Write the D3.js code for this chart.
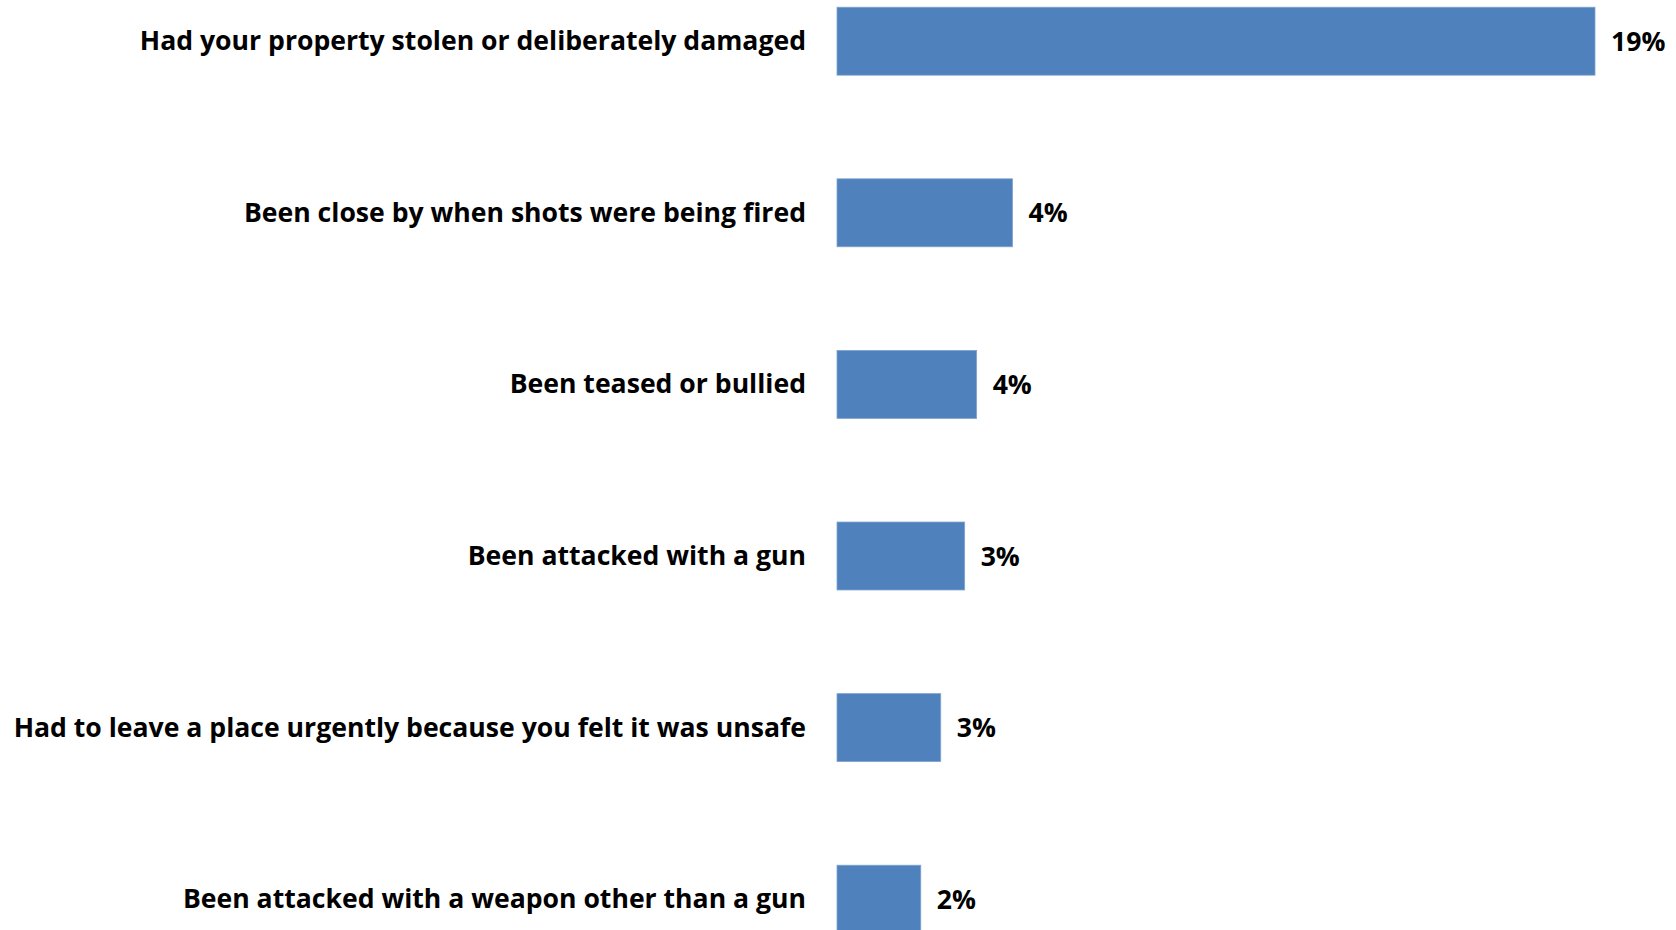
<!DOCTYPE html>
<html>
<head>
<meta charset="utf-8">
<script src="https://cdn.jsdelivr.net/npm/d3@7"></script>
<style>
  html, body { margin: 0; padding: 0; background: #fff; }
  svg { display: block; }
</style>
</head>
<body>
<svg id="chart" width="1676" height="930"></svg>
<script>
const categories = [
  "Had your property stolen or deliberately damaged",
  "Been close by when shots were being fired",
  "Been teased or bullied",
  "Been attacked with a gun",
  "Had to leave a place urgently because you felt it was unsafe",
  "Been attacked with a weapon other than a gun"
];
const values = [19.0, 4.4, 3.5, 3.2, 2.6, 2.1];
const valueLabels = ["19%", "4%", "4%", "3%", "3%", "2%"];

const W = 1676, H = 930;
const svg = d3.select("#chart");

const x = d3.scaleLinear()
  .domain([0, d3.max(values)])
  .range([837, 1595]);

const pad = 0.604;
const y = d3.scaleBand()
  .domain(categories)
  .range([-44.6, -44.6 + 171.6 * categories.length])
  .paddingInner(pad)
  .paddingOuter(pad / 2);

const font = "'Open Sans', sans-serif";
const fs = 26.6;

svg.append("g").selectAll("rect")
  .data(values)
  .join("rect")
  .attr("x", x(0))
  .attr("y", (d, i) => y(categories[i]))
  .attr("width", d => x(d) - x(0))
  .attr("height", y.bandwidth())
  .attr("fill", "#4F81BD")
  .attr("stroke", "#7FA3CF")
  .attr("stroke-width", 0.8);

svg.append("g").selectAll("text")
  .data(categories)
  .join("text")
  .attr("x", x(0) - 31)
  .attr("y", d => y(d) + y.bandwidth() / 2)
  .attr("dy", "0.34em")
  .attr("text-anchor", "end")
  .attr("font-family", font)
  .attr("font-weight", "bold")
  .attr("font-size", fs)
  .attr("fill", "#000")
  .text(d => d);

svg.append("g").selectAll("text")
  .data(values)
  .join("text")
  .attr("x", d => x(d) + 16)
  .attr("y", (d, i) => y(categories[i]) + y.bandwidth() / 2)
  .attr("dy", "0.36em")
  .attr("font-family", font)
  .attr("font-weight", "bold")
  .attr("font-size", fs)
  .attr("fill", "#000")
  .text((d, i) => valueLabels[i]);
</script>
</body>
</html>
